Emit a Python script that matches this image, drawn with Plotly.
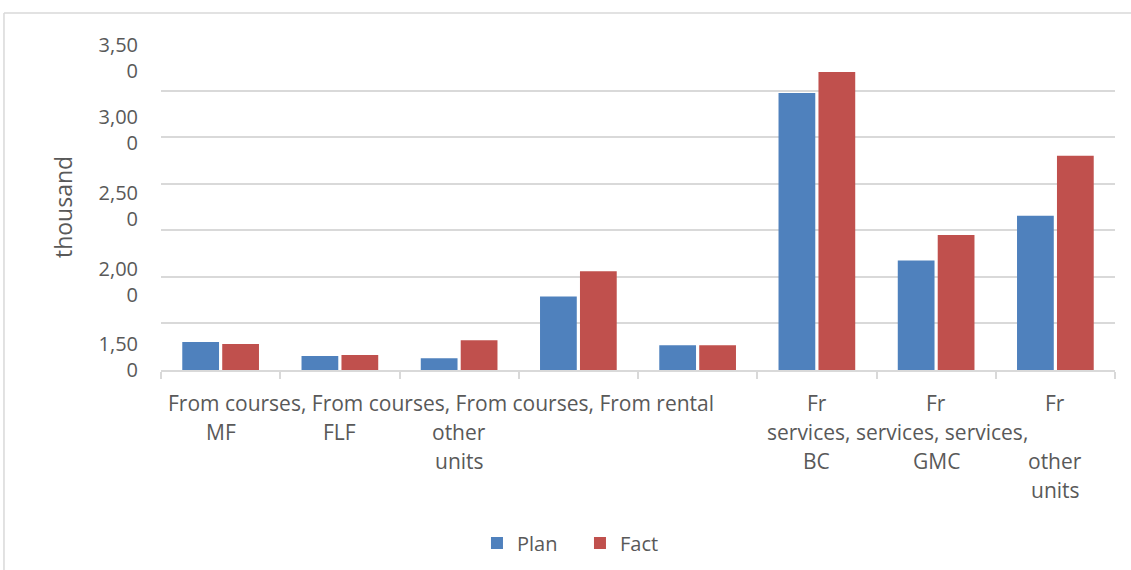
import plotly.graph_objects as go

# ---- data ----
label_lines = [
    ["From courses,", "MF"],
    ["From courses,", "FLF"],
    ["From courses,", "other", "units"],
    ["From rental"],
    [""],
    ["Fr", "services,", "BC"],
    ["Fr", "services,", "GMC"],
    ["Fr", "services,", "other", "units"],
]
plan = [300, 150, 125, 790, 265, 2975, 1175, 1655]
fact = [280, 160, 320, 1060, 265, 3200, 1450, 2300]
y_tick_text = ["3,500", "3,000", "2,500", "2,000", "1,500"]
series_names = ["Plan", "Fact"]
colors = ["#4F81BD", "#C0504D"]

# ---- layout constants ----
FONT = "Open Sans"
TXT = "#595959"
GRID = "#D9D9D9"
FS = 20
XFS = 21
n = len(label_lines)
x = list(range(n))
# label positions on the (garbled) value axis, in axis units
label_pos = [3345, 2574, 1765, 950, 136]

fig = go.Figure()
for name, vals, col in zip(series_names, [plan, fact], colors):
    fig.add_trace(go.Bar(x=x, y=vals, name=name, marker_color=col,
                         marker_line_width=0))

# helper trace for overlaying label axis
fig.add_trace(go.Scatter(x=[0], y=[0], yaxis="y2", mode="markers",
                         marker_opacity=0, showlegend=False, hoverinfo="skip"))

annotations = []
# flowing rows (text runs together across categories in the reference)
flows = [(0, [0, 1, 2, 3], 1.848), (1, [5, 6, 7], 5.672)]
flowed = set()
for row, cats, cx in flows:
    txt = " ".join(label_lines[c][row] for c in cats)
    for c in cats:
        flowed.add((c, row))
    annotations.append(dict(x=cx, y=0, xref="x", yref="paper", text=txt,
                            showarrow=False, xanchor="center", yanchor="middle",
                            yshift=-(33 + 29 * row),
                            font=dict(family=FONT, size=XFS, color=TXT)))
for c, lines in enumerate(label_lines):
    for r, t in enumerate(lines):
        if (c, r) in flowed or not t:
            continue
        annotations.append(dict(x=c, y=0, xref="x", yref="paper", text=t,
                                showarrow=False, xanchor="center", yanchor="middle",
                                yshift=-(33 + 29 * r),
                                font=dict(family=FONT, size=XFS, color=TXT)))
annotations.append(dict(x=-0.1027, y=0.5, xref="paper", yref="paper",
                        text="thousand", textangle=-90, showarrow=False,
                        xanchor="center", yanchor="middle",
                        font=dict(family=FONT, size=23, color=TXT)))

shapes = [
    dict(type="line", xref="paper", yref="paper", x0=-0.1646, x1=1.03,
         y0=1.095, y1=1.095, line=dict(color=GRID, width=1.5)),
    dict(type="line", xref="paper", yref="paper", x0=-0.1646, x1=-0.1646,
         y0=1.095, y1=-0.65, line=dict(color=GRID, width=1.5)),
]

fig.update_layout(
    width=1131, height=570,
    margin=dict(l=161, r=16, t=44, b=200),
    paper_bgcolor="white", plot_bgcolor="white",
    barmode="group", bargap=0.33, bargroupgap=0.08,
    font=dict(family=FONT, size=FS, color=TXT),
    xaxis=dict(range=[-0.5, n - 0.5], tickmode="array",
               tickvals=[i - 0.5 for i in range(n + 1)],
               showticklabels=False, ticks="outside", ticklen=7,
               tickcolor=GRID, tickwidth=1.5,
               showline=True, linecolor=GRID, linewidth=2,
               showgrid=False, zeroline=False, fixedrange=True),
    yaxis=dict(range=[0, 3500], dtick=500, showticklabels=False,
               showgrid=True, gridcolor=GRID, gridwidth=1.5,
               zeroline=False, showline=False, ticks=""),
    yaxis2=dict(range=[0, 3500], overlaying="y", side="left",
                tickmode="array", tickvals=label_pos,
                ticktext=[t[:-1] + "<br>" + t[-1] for t in y_tick_text],
                showgrid=False, zeroline=False, showline=False, ticks="",
                ticklabelstandoff=22,
                tickfont=dict(family=FONT, size=FS, color=TXT)),
    legend=dict(orientation="h", xref="container", yref="container",
                x=0.5128, xanchor="center", y=0.0474, yanchor="middle",
                entrywidth=58,
                font=dict(family=FONT, size=FS, color=TXT),
                bgcolor="rgba(0,0,0,0)"),
    annotations=annotations,
    shapes=shapes,
    showlegend=True,
)

fig.write_html("out.html", config={"displayModeBar": False},
               post_script="document.body.style.margin='0';document.body.style.overflow='hidden';")
